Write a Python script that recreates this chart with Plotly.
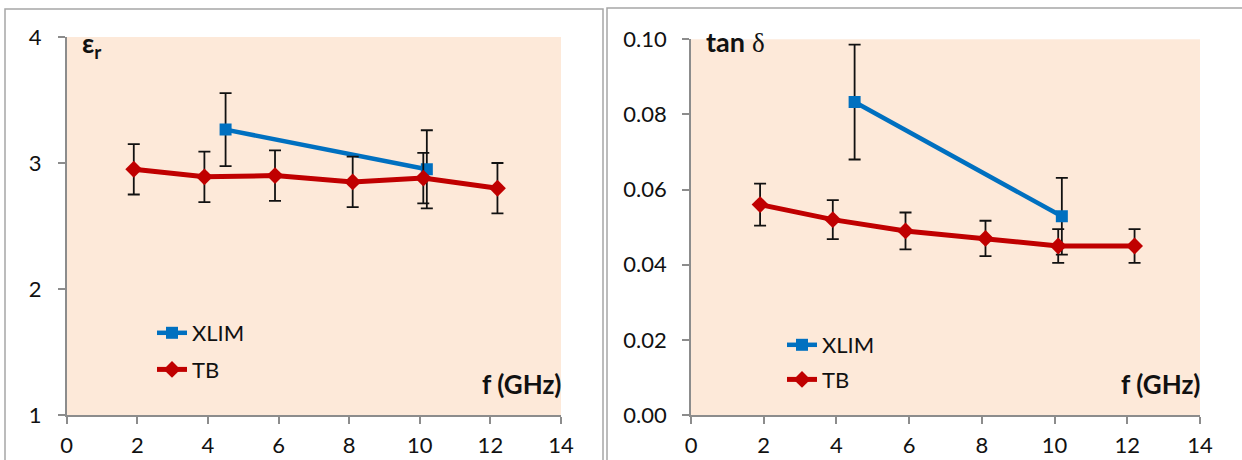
import plotly.graph_objects as go

# ---- data ----
tb_f = [1.9, 3.9, 5.9, 8.1, 10.1, 12.2]
tb_eps = [2.95, 2.89, 2.90, 2.85, 2.88, 2.80]
tb_eps_err = [0.2, 0.2, 0.2, 0.2, 0.2, 0.2]
tb_tan = [0.056, 0.052, 0.049, 0.047, 0.045, 0.045]
tb_tan_err = [0.0056, 0.0052, 0.0049, 0.0047, 0.0045, 0.0045]

xlim_f = [4.5, 10.2]
xlim_eps = [3.265, 2.95]
xlim_eps_err = [0.29, 0.31]
xlim_tan = [0.0833, 0.0529]
xlim_tan_err = [0.0153, 0.0102]

x_ticks = [0, 2, 4, 6, 8, 10, 12, 14]

BLUE = "#0070C0"
RED = "#C00000"
BG = "#FDE9D9"
AX = "#8C8C8C"
W, H = 1242, 460
OFF = 0  # page body margin removed via post_script
FONT = "Lato"


def px(x):
    return (x - OFF) / W


def py(y):
    return (H - (y - OFF)) / H


fig = go.Figure()


def add_series(x, y, err, name, color, symbol, size, xa, ya, legend, lw):
    fig.add_trace(go.Scatter(
        x=x, y=y, name=name, mode="lines+markers",
        line=dict(color=color, width=lw),
        marker=dict(color=color, symbol=symbol, size=size, line=dict(width=0)),
        error_y=dict(type="data", array=err, visible=True, color="#111111",
                     thickness=1.8, width=6),
        xaxis=xa, yaxis=ya, legend=legend, legendgroup=name + legend,
    ))


add_series(xlim_f, xlim_eps, xlim_eps_err, "XLIM", BLUE, "square", 12, "x", "y", "legend", 4.5)
add_series(tb_f, tb_eps, tb_eps_err, "TB", RED, "diamond", 13, "x", "y", "legend", 5)
add_series(xlim_f, xlim_tan, xlim_tan_err, "XLIM", BLUE, "square", 12, "x2", "y2", "legend2", 4.5)
add_series(tb_f, tb_tan, tb_tan_err, "TB", RED, "diamond", 13, "x2", "y2", "legend2", 5)

axis_common = dict(
    showline=True, linecolor=AX, linewidth=1.5, ticks="outside", ticklen=7,
    tickcolor=AX, tickwidth=1.5, showgrid=False, zeroline=False, automargin=False,
    tickfont=dict(family=FONT, size=22, color="#111111"), mirror=False,
)

fig.update_layout(
    width=W, height=H, margin=dict(l=0, r=0, t=0, b=0, autoexpand=False),
    paper_bgcolor="white", plot_bgcolor=BG,
    font=dict(family=FONT, color="#111111"),
    xaxis=dict(domain=[px(66.7), px(561)], range=[0, 14], tickvals=x_ticks,
               anchor="y", ticklabelstandoff=3, **axis_common),
    yaxis=dict(domain=[py(415), py(37)], range=[1, 4], dtick=1,
               anchor="x", ticklabelstandoff=12, **axis_common),
    xaxis2=dict(domain=[px(691), px(1200)], range=[0, 14], tickvals=x_ticks,
                anchor="y2", ticklabelstandoff=3, **axis_common),
    yaxis2=dict(domain=[py(415), py(39.3)], range=[0, 0.1], dtick=0.02,
                tickformat=".2f", anchor="x2", ticklabelstandoff=11, **axis_common),
    legend=dict(x=px(152), y=py(312), xanchor="left", yanchor="top",
                bgcolor="rgba(0,0,0,0)", font=dict(family=FONT, size=22),
                tracegroupgap=5, itemwidth=30),
    legend2=dict(x=px(782), y=py(324), xanchor="left", yanchor="top",
                 bgcolor="rgba(0,0,0,0)", font=dict(family=FONT, size=22),
                 tracegroupgap=3, itemwidth=30),
    showlegend=True,
)

# panel borders
fig.add_shape(type="rect", xref="paper", yref="paper",
              x0=px(5), x1=px(603), y0=-0.2, y1=py(9),
              line=dict(color="#A6A6A6", width=1.5), fillcolor="rgba(0,0,0,0)", layer="below")
fig.add_shape(type="rect", xref="paper", yref="paper",
              x0=px(607), x1=px(1260), y0=-0.2, y1=py(8),
              line=dict(color="#A6A6A6", width=1.5), fillcolor="rgba(0,0,0,0)", layer="below")

# axis labels inside plots
fig.add_annotation(text="<b>ε<sub>r</sub></b>", xref="paper", yref="paper",
                   x=px(80), y=py(24), xanchor="left", yanchor="top", showarrow=False,
                   font=dict(family=FONT, size=27, color="#111111"))
fig.add_annotation(text="<b>tan</b> <span style='font-family:Liberation Serif'>δ</span>",
                   xref="paper", yref="paper",
                   x=px(704), y=py(23), xanchor="left", yanchor="top", showarrow=False,
                   font=dict(family=FONT, size=27, color="#111111"))
fig.add_annotation(text="<b>f (GHz)</b>", xref="paper", yref="paper",
                   x=px(564), y=py(384), xanchor="right", yanchor="middle", showarrow=False,
                   font=dict(family=FONT, size=26, color="#111111"))
fig.add_annotation(text="<b>f (GHz)</b>", xref="paper", yref="paper",
                   x=px(1203), y=py(384), xanchor="right", yanchor="middle", showarrow=False,
                   font=dict(family=FONT, size=26, color="#111111"))

fig.write_html("out.html", config={"displayModeBar": False},
               post_script="document.body.style.margin='0';document.body.style.overflow='hidden';")
